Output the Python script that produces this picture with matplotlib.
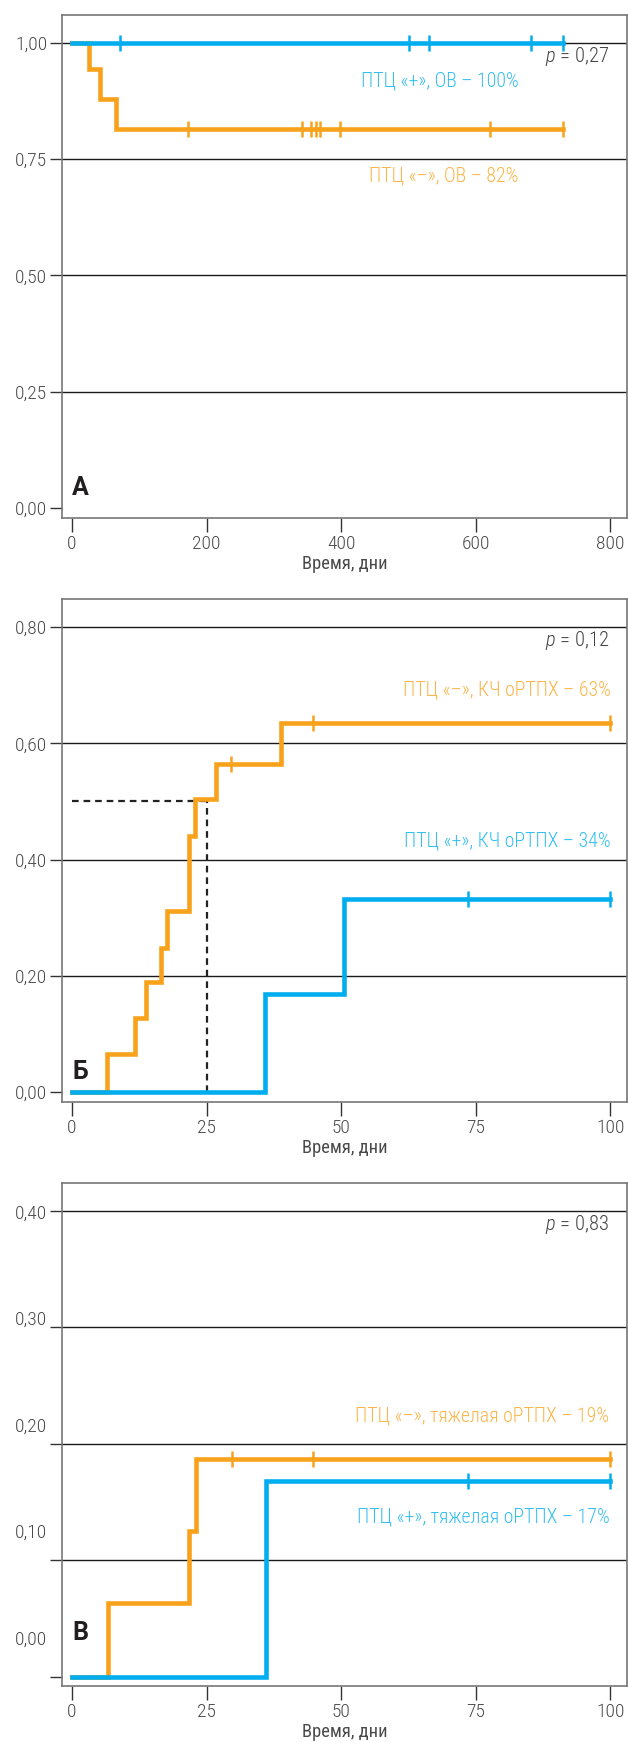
import numpy as np
import matplotlib
matplotlib.use("Agg")
import matplotlib.pyplot as plt

plt.rcParams['font.family'] = ['Roboto Condensed', 'DejaVu Sans']
plt.rcParams['font.weight'] = 300
plt.rcParams['mathtext.fontset'] = 'custom'
plt.rcParams['mathtext.it'] = 'Roboto Condensed:italic:light'
plt.rcParams['mathtext.rm'] = 'Roboto Condensed:light'

BLUE = '#00aeef'
ORANGE = '#f8a21c'
BLUE_TXT = '#35bff0'
ORANGE_TXT = '#fbb548'

# --- A: overall survival, days
os_pos_t = [0, 730]
os_pos_v = [1.0, 1.0]
os_pos_cens = [71, 501, 530, 682, 730]
os_neg_t = [0, 25, 42, 66, 730]
os_neg_v = [1.0, 0.944, 0.879, 0.815, 0.815]
os_neg_cens = [173, 342, 355, 362, 368, 398, 622, 730]

# --- Б: cumulative incidence of aGVHD
ci_neg_t = [0, 6.5, 11.7, 13.7, 16.6, 17.7, 21.7, 22.9, 26.8, 38.9, 100]
ci_neg_v = [0, 0.066, 0.128, 0.19, 0.248, 0.312, 0.44, 0.505, 0.565, 0.635, 0.635]
ci_neg_cens = [29.6, 44.7, 100]
ci_pos_t = [0, 35.9, 50.5, 100]
ci_pos_v = [0, 0.169, 0.333, 0.333]
ci_pos_cens = [73.5, 100]
median_t, median_v = 25, 0.5

# --- В: severe aGVHD
sev_neg_t = [0, 6.7, 21.7, 23.1, 100]
sev_neg_v = [0, 0.063, 0.125, 0.187, 0.187]
sev_neg_cens = [29.8, 44.8, 100]
sev_pos_t = [0, 36.0, 100]
sev_pos_v = [0, 0.168, 0.168]
sev_pos_cens = [73.6, 100]

W, H = 628, 1742
fig = plt.figure(figsize=(W / 100, H / 100), dpi=100)

TICK_FS = 14
NOTE_FS = 14.3
P_FS = 14.8


def step_at(t, times, vals):
    i = np.searchsorted(times, t, side='right') - 1
    return np.asarray(vals)[i]


def curve(ax, times, vals, cens, color, z):
    ax.plot(times, vals, drawstyle='steps-post', color=color, lw=3.3,
            solid_joinstyle='miter', zorder=z)
    ax.plot(cens, [step_at(c, times, vals) for c in cens], ls='none',
            marker='|', ms=12, mew=1.8, color=color, zorder=z)


def setup(ax, xlim, ylim, xticks, yticks, yfmt, letter, show_ylabels=True):
    ax.set_xlim(*xlim)
    ax.set_ylim(*ylim)
    ax.set_xticks(xticks)
    ax.set_xticklabels([str(x) for x in xticks])
    ax.set_yticks(yticks)
    ax.set_yticklabels([yfmt(v) for v in yticks])
    for v in yticks:
        if v > 0:
            ax.axhline(v, color='#1a1a1a', lw=1, zorder=1)
    for s in ax.spines.values():
        s.set_color('#777777')
        s.set_linewidth(1.2)
    ax.tick_params(axis='y', direction='out', length=8.6, width=1, color='#333333',
                   pad=2.0, labelsize=TICK_FS, labelcolor='#4a4a4a', labelleft=show_ylabels)
    ax.tick_params(axis='x', direction='out', length=10, width=1, color='#333333',
                   pad=2.5, labelsize=TICK_FS, labelcolor='#4a4a4a')
    ax.set_xlabel('Время, дни', fontsize=13.3, color='#4a4a4a', labelpad=1.5)
    ax.text(0.018, 0.06, letter, transform=ax.transAxes,
            fontsize=18, fontweight='bold', color='#231f20',
            family=['Roboto', 'DejaVu Sans'], ha='left', va='center')


fmt = lambda v: f'{v:.2f}'.replace('.', ',')

left = 62 / W
width = 565 / W
ph = 503 / H

# panel A
axA = fig.add_axes([left, (H - 518) / H, width, ph])
setup(axA, (-15, 825), (-0.0215, 1.06), [0, 200, 400, 600, 800],
      [0, 0.25, 0.5, 0.75, 1.0], fmt, 'А')
curve(axA, os_neg_t, os_neg_v, os_neg_cens, ORANGE, 3)
curve(axA, os_pos_t, os_pos_v, os_pos_cens, BLUE, 4)
axA.text(0.968, 0.917, '$p$ = 0,27', transform=axA.transAxes, ha='right', va='center',
         fontsize=P_FS, color='#444444')
axA.text(0.808, 0.869, 'ПТЦ «+», ОВ – 100%', transform=axA.transAxes, ha='right',
         va='center', fontsize=NOTE_FS, color=BLUE_TXT)
axA.text(0.808, 0.680, 'ПТЦ «–», ОВ – 82%', transform=axA.transAxes, ha='right',
         va='center', fontsize=NOTE_FS, color=ORANGE_TXT)

# panel Б
axB = fig.add_axes([left, (H - 1101.7) / H, width, ph])
setup(axB, (-1.86, 103.1), (-0.0167, 0.849), [0, 25, 50, 75, 100],
      [0, 0.2, 0.4, 0.6, 0.8], fmt, 'Б')
axB.plot([0, median_t], [median_v, median_v], ls=(0, (3, 2.2)), color='#222222', lw=1.6, zorder=2)
axB.plot([median_t, median_t], [0, median_v], ls=(0, (3, 2.2)), color='#222222', lw=1.6, zorder=2)
curve(axB, ci_neg_t, ci_neg_v, ci_neg_cens, ORANGE, 3)
curve(axB, ci_pos_t, ci_pos_v, ci_pos_cens, BLUE, 4)
axB.text(0.968, 0.917, '$p$ = 0,12', transform=axB.transAxes, ha='right', va='center',
         fontsize=P_FS, color='#444444')
axB.text(0.971, 0.819, 'ПТЦ «–», КЧ оРТПХ – 63%', transform=axB.transAxes, ha='right',
         va='center', fontsize=NOTE_FS, color=ORANGE_TXT)
axB.text(0.971, 0.519, 'ПТЦ «+», КЧ оРТПХ – 34%', transform=axB.transAxes, ha='right',
         va='center', fontsize=NOTE_FS, color=BLUE_TXT)

# panel В (tick labels drawn on a shifted twin scale, as in the original)
axC = fig.add_axes([left, (H - 1686) / H, width, ph])
yt = [0, 0.1, 0.2, 0.3, 0.4]
setup(axC, (-1.86, 103.1), (-0.008, 0.424), [0, 25, 50, 75, 100], yt, fmt, 'В',
      show_ylabels=False)
axC.texts[-1].set_position((0.018, 0.105))
axC2 = axC.twinx()
axC2.set_ylim(-0.0454, 0.4267)
axC2.set_yticks(yt)
axC2.set_yticklabels([fmt(v) for v in yt])
axC2.yaxis.tick_left()
axC2.tick_params(axis='y', length=0, pad=10.6, labelsize=TICK_FS, labelcolor='#4a4a4a')
for s in axC2.spines.values():
    s.set_visible(False)
curve(axC, sev_neg_t, sev_neg_v, sev_neg_cens, ORANGE, 3)
curve(axC, sev_pos_t, sev_pos_v, sev_pos_cens, BLUE, 4)
axC.text(0.968, 0.917, '$p$ = 0,83', transform=axC.transAxes, ha='right', va='center',
         fontsize=P_FS, color='#444444')
axC.text(0.969, 0.536, 'ПТЦ «–», тяжелая оРТПХ – 19%', transform=axC.transAxes,
         ha='right', va='center', fontsize=NOTE_FS, color=ORANGE_TXT)
axC.text(0.969, 0.3365, 'ПТЦ «+», тяжелая оРТПХ – 17%', transform=axC.transAxes,
         ha='right', va='center', fontsize=NOTE_FS, color=BLUE_TXT)

fig.savefig('out.png', dpi=100)
